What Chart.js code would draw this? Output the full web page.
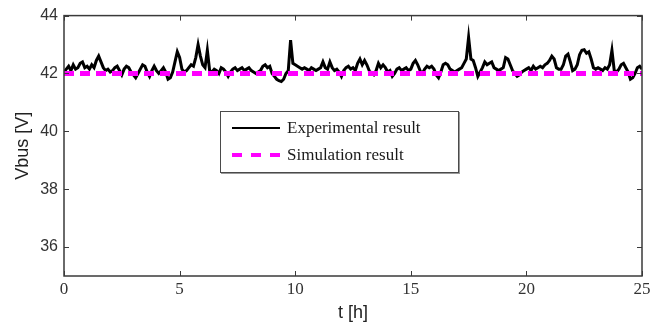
<!DOCTYPE html>
<html>
<head>
<meta charset="utf-8">
<script src="https://cdn.jsdelivr.net/npm/chart.js@4.4.1/dist/chart.umd.min.js"></script>
<style>
    html, body { margin: 0; padding: 0; background: #fff; }
    #wrap { position: relative; width: 651px; height: 327px; }
    #legend-box {
        position: absolute; left: 220px; top: 111px; width: 237px; height: 60px;
        border: 1px solid #4a4a4a; background: #fff;
        box-shadow: 1px 1px 0 #999;
        font-family: "Liberation Serif", "Times New Roman", serif; font-size: 17px; color: #1a1a1a;
    }
    .row { position: absolute; left: 0; height: 20px; line-height: 20px; }
    .row span.txt { position: absolute; left: 66px; white-space: nowrap; }
    .row .sample { position: absolute; left: 11px; width: 48px; top: 9px; }
    #row-exp { top: 6px; }
    #row-sim { top: 33px; }
    #row-exp .sample { border-top: 2px solid #000; }
    #row-sim .sample { top: 8px; height: 4px;
        background: repeating-linear-gradient(90deg, #ff00ff 0 10px, transparent 10px 19px); }
</style>
</head>
<body>
<div id="wrap">
    <canvas id="vbus-chart" width="651" height="327"></canvas>
    <div id="legend-box">
        <div class="row" id="row-exp"><div class="sample"></div><span class="txt">Experimental result</span></div>
        <div class="row" id="row-sim"><div class="sample"></div><span class="txt">Simulation result</span></div>
    </div>
</div>
<script>
// Sampling of the measured trace (hours)
const tStep = 0.1;

// Measured bus voltage, one row per hour (t = h.0 ... h.9), last value at t = 25
const experimentalV = [
    42.05, 42.15, 42.25, 42.10, 42.30, 42.15, 42.20, 42.35, 42.40, 42.20,
    42.25, 42.15, 42.30, 42.20, 42.45, 42.60, 42.40, 42.20, 42.10, 42.15,
    42.05, 42.10, 42.20, 42.25, 42.10, 41.95, 42.15, 42.25, 42.20, 42.05,
    41.95, 41.85, 42.00, 42.15, 42.30, 42.25, 42.05, 41.90, 42.10, 42.25,
    42.10, 42.00, 42.10, 42.20, 42.05, 41.80, 41.85, 42.05, 42.40, 42.75,
    42.55, 42.15, 42.05, 42.10, 42.20, 42.30, 42.25, 42.55, 43.00, 42.60,
    42.30, 42.20, 42.80, 42.10, 42.05, 42.15, 42.10, 42.00, 42.20, 42.15,
    42.05, 41.90, 42.05, 42.15, 42.20, 42.10, 42.15, 42.20, 42.10, 42.15,
    42.20, 42.10, 42.05, 42.00, 42.05, 42.10, 42.25, 42.30, 42.20, 42.25,
    42.00, 41.90, 41.80, 41.75, 41.72, 41.80, 42.00, 42.10, 43.15, 42.35,
    42.30, 42.25, 42.20, 42.15, 42.20, 42.15, 42.10, 42.20, 42.15, 42.10,
    42.15, 42.20, 42.40, 42.20, 42.15, 42.40, 42.20, 42.10, 42.15, 42.05,
    41.90, 42.10, 42.20, 42.25, 42.15, 42.20, 42.10, 42.35, 42.50, 42.30,
    42.45, 42.30, 42.10, 42.00, 41.95, 42.10, 42.35, 42.20, 42.30, 42.20,
    42.05, 42.10, 41.90, 42.00, 42.15, 42.20, 42.10, 42.15, 42.20, 42.10,
    42.15, 42.35, 42.45, 42.30, 42.10, 42.00, 42.15, 42.25, 42.20, 42.25,
    42.15, 41.95, 41.85, 42.05, 42.30, 42.35, 42.30, 42.15, 42.10, 42.05,
    42.10, 42.15, 42.20, 42.35, 42.50, 43.25, 42.50, 42.45, 42.20, 41.90,
    42.05, 42.20, 42.40, 42.30, 42.35, 42.40, 42.20, 42.15, 42.10, 42.15,
    42.20, 42.55, 42.50, 42.30, 42.10, 42.00, 41.90, 41.95, 42.05, 42.10,
    42.15, 42.20, 42.10, 42.25, 42.15, 42.20, 42.25, 42.20, 42.30, 42.35,
    42.45, 42.60, 42.50, 42.20, 42.15, 42.15, 42.30, 42.60, 42.67, 42.40,
    42.10, 42.15, 42.30, 42.65, 42.80, 42.82, 42.70, 42.75, 42.50, 42.20,
    42.15, 42.20, 42.15, 42.10, 42.20, 42.15, 42.30, 42.80, 42.10, 42.05,
    42.15, 42.30, 42.35, 42.20, 42.05, 41.80, 41.85, 42.00, 42.20, 42.25,
    42.15
];

// Simulated bus voltage (flat reference)
const simulationT = [0, 25];
const simulationV = [42, 42];

// Axis ticks
const xTicks = [0, 5, 10, 15, 20, 25];
const yTicks = [36, 38, 40, 42, 44];

const frameColor = '#3a3a3a';

/**
 * MATLAB style box with inward tick marks on all four sides
 */
const boxFramePlugin = {
    id: 'boxFrame',
    afterDraw(chart) {
        const { ctx, chartArea: a, scales } = chart;
        const len = 5;
        ctx.save();
        ctx.strokeStyle = frameColor;
        ctx.lineWidth = 1.5;
        ctx.strokeRect(a.left, a.top, a.right - a.left, a.bottom - a.top);
        ctx.lineWidth = 1;
        ctx.beginPath();
        xTicks.forEach(v => {
            const px = Math.round(scales.x.getPixelForValue(v)) + 0.5;
            ctx.moveTo(px, a.bottom); ctx.lineTo(px, a.bottom - len);
            ctx.moveTo(px, a.top); ctx.lineTo(px, a.top + len);
        });
        yTicks.forEach(v => {
            const py = Math.round(scales.y.getPixelForValue(v)) + 0.5;
            ctx.moveTo(a.left, py); ctx.lineTo(a.left + len, py);
            ctx.moveTo(a.right, py); ctx.lineTo(a.right - len, py);
        });
        ctx.stroke();
        ctx.restore();
    }
};

function buildChart() {
    const ctx = document.getElementById('vbus-chart').getContext('2d');

    const expPoints = experimentalV.map((v, i) => ({ x: +(i * tStep).toFixed(1), y: v }));
    const simPoints = simulationT.map((t, i) => ({ x: t, y: simulationV[i] }));

    new Chart(ctx, {
        type: 'line',
        data: {
            datasets: [{
                label: 'Simulation result',
                data: simPoints,
                borderColor: '#ff00ff',
                borderWidth: 5,
                borderDash: [10, 6],
                pointRadius: 0,
                order: 0
            }, {
                label: 'Experimental result',
                data: expPoints,
                borderColor: '#000000',
                borderWidth: 3,
                pointRadius: 0,
                tension: 0,
                order: 1
            }]
        },
        options: {
            responsive: false,
            animation: false,
            layout: { padding: { top: 14, right: 9, left: 0, bottom: 0 } },
            plugins: {
                legend: { display: false },
                tooltip: { enabled: false }
            },
            scales: {
                x: {
                    type: 'linear',
                    min: 0,
                    max: 25,
                    afterBuildTicks: scale => { scale.ticks = xTicks.map(v => ({ value: v })); },
                    afterFit: scale => {
                        scale.height = 51;
                        scale.paddingLeft = 0;
                        scale.paddingRight = 0;
                    },
                    grid: { display: false, drawTicks: false },
                    border: { display: false },
                    ticks: {
                        padding: 3,
                        color: '#333',
                        maxRotation: 0,
                        font: { family: '"Liberation Serif", serif', size: 17 }
                    },
                    title: {
                        display: true,
                        text: 't [h]',
                        color: '#222',
                        padding: { top: 0, bottom: 3 },
                        font: { family: '"Liberation Sans", Arial, sans-serif', size: 18 }
                    }
                },
                y: {
                    min: 35,
                    max: 44,
                    afterBuildTicks: scale => { scale.ticks = yTicks.map(v => ({ value: v })); },
                    afterFit: scale => { scale.width = 64; },
                    grid: { display: false, drawTicks: false },
                    border: { display: false },
                    ticks: {
                        padding: 6,
                        color: '#333',
                        font: { family: '"Liberation Sans", Arial, sans-serif', size: 16 }
                    },
                    title: {
                        display: true,
                        text: 'Vbus [V]',
                        color: '#222',
                        padding: { top: 12, bottom: 0 },
                        font: { family: '"Liberation Sans", Arial, sans-serif', size: 18 }
                    }
                }
            }
        },
        plugins: [boxFramePlugin]
    });
}

buildChart();
</script>
</body>
</html>
